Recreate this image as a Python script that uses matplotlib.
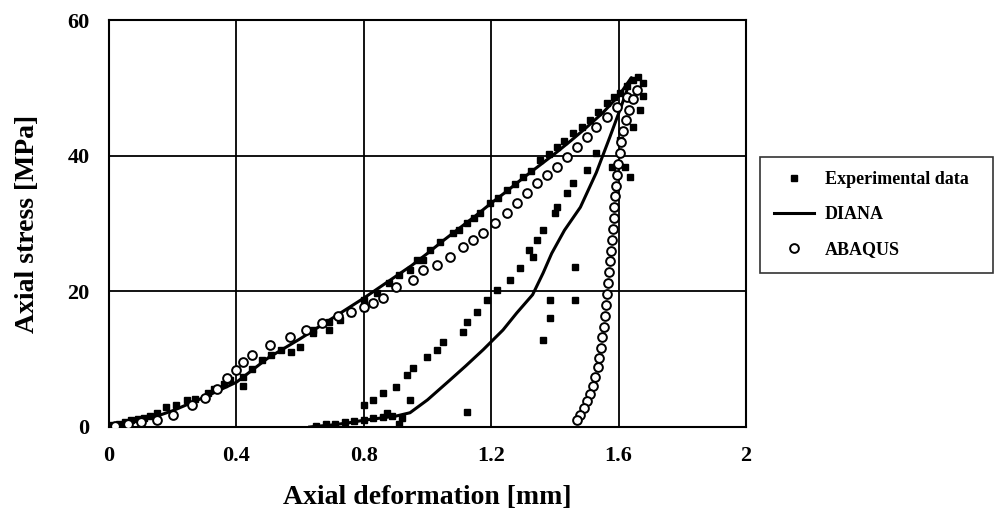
import matplotlib
matplotlib.use("Agg")
import matplotlib.pyplot as plt

# ---------------- data ----------------
exp_x = [0.01, 0.03, 0.05, 0.07, 0.09, 0.11, 0.13, 0.15, 0.18, 0.21, 0.245, 0.27, 0.31, 0.33, 0.36, 0.38,
         0.42, 0.42, 0.45, 0.48, 0.51, 0.54, 0.57, 0.6, 0.64, 0.64, 0.69, 0.69, 0.725, 0.76, 0.80, 0.80,
         0.84, 0.88, 0.91, 0.945, 0.967, 0.986, 1.008, 1.04, 1.08, 1.10, 1.124, 1.145, 1.165, 1.196,
         1.22, 1.25, 1.275, 1.30, 1.325, 1.353, 1.38, 1.407, 1.43, 1.457, 1.485, 1.51, 1.535, 1.563,
         1.585, 1.604, 1.625, 1.645, 1.66, 1.677, 1.677, 1.667, 1.645,
         1.604, 1.58, 1.62, 1.53, 1.50, 1.457, 1.437, 1.407, 1.40, 1.363, 1.343, 1.32, 1.33, 1.29,
         1.26, 1.218, 1.187, 1.155, 1.124, 1.11, 1.05, 1.03, 0.998, 0.955, 0.935, 0.90, 0.86, 0.83,
         0.80, 0.873, 0.945, 0.92, 0.89, 0.86, 0.83, 0.80, 0.77, 0.74, 0.71, 0.68, 0.65, 0.91,
         1.124, 1.385, 1.463, 1.385, 1.363, 1.463, 1.636]
exp_y = [0.3, 0.5, 0.8, 1.0, 1.2, 1.4, 1.6, 2.0, 3.0, 3.2, 4.0, 4.2, 5.0, 5.6, 6.4, 7.0,
         7.4, 6.0, 8.6, 9.9, 10.6, 11.4, 11.0, 11.8, 14.3, 13.9, 14.3, 15.5, 15.8, 16.8, 17.5, 18.7,
         19.8, 21.2, 22.4, 23.2, 24.6, 24.6, 26.1, 27.3, 28.6, 29.0, 30.1, 30.8, 31.6, 33.0,
         33.8, 35.0, 35.8, 36.9, 37.8, 39.4, 40.2, 41.3, 42.2, 43.4, 44.2, 45.3, 46.5, 47.8,
         48.6, 49.3, 50.2, 51.2, 51.6, 50.7, 48.8, 46.8, 44.2,
         42.3, 38.3, 38.3, 40.4, 37.9, 36.0, 34.5, 32.4, 31.5, 29.0, 27.6, 26.1, 25.0, 23.4,
         21.7, 20.2, 18.7, 17.0, 15.5, 14.0, 12.5, 11.4, 10.3, 8.7, 7.7, 5.9, 5.0, 4.0,
         3.2, 2.1, 4.0, 1.4, 1.6, 1.5, 1.3, 1.1, 0.9, 0.7, 0.5, 0.4, 0.2, 0.5,
         2.2, 18.7, 18.7, 16.0, 12.8, 23.6, 36.9]

diana_x = [0.0, 0.05, 0.1, 0.15, 0.2, 0.25, 0.3, 0.35, 0.4, 0.45, 0.5, 0.55, 0.6, 0.65, 0.7, 0.75,
           0.8, 0.85, 0.9, 0.95, 1.0, 1.05, 1.1, 1.15, 1.2, 1.25, 1.3, 1.35, 1.4, 1.45, 1.5, 1.55,
           1.6, 1.64,
           1.61, 1.573, 1.53, 1.48, 1.43, 1.39, 1.363, 1.33, 1.28, 1.237, 1.175, 1.12, 1.07, 1.0,
           0.945, 0.9, 0.85, 0.8, 0.75, 0.7, 0.65, 0.63]
diana_y = [0.0, 0.5, 1.0, 1.6, 2.4, 3.4, 4.4, 5.5, 6.6, 8.4, 10.2, 11.6, 13.0, 14.5, 16.0, 17.5,
           19.0, 20.6, 22.2, 23.8, 25.6, 27.5, 29.3, 31.1, 33.0, 34.8, 36.7, 38.5, 40.3, 42.2, 44.2, 46.3,
           48.8, 51.5,
           47.5, 42.8, 37.5, 32.4, 29.0, 25.6, 22.7, 19.5, 16.8, 14.3, 11.4, 9.0, 6.9, 4.0,
           2.1, 1.6, 1.3, 1.0, 0.6, 0.3, 0.1, 0.0]

abaqus_x = [0.02, 0.06, 0.10, 0.15, 0.20, 0.26, 0.30, 0.34, 0.37, 0.40, 0.42, 0.45, 0.505, 0.568,
            0.62, 0.67, 0.72, 0.76, 0.80, 0.83, 0.86, 0.90, 0.955, 0.986, 1.03, 1.07, 1.11, 1.143,
            1.175, 1.212, 1.25, 1.28, 1.312, 1.343, 1.375, 1.407, 1.437, 1.47, 1.50, 1.53, 1.563,
            1.595, 1.626, 1.658,
            1.645, 1.632, 1.622, 1.614, 1.608, 1.603, 1.599, 1.596, 1.593, 1.590, 1.587, 1.584,
            1.581, 1.578, 1.575, 1.572, 1.569, 1.566, 1.563, 1.560, 1.557, 1.553, 1.549, 1.545,
            1.540, 1.534, 1.527, 1.519, 1.510, 1.500, 1.490, 1.479, 1.468]
abaqus_y = [0.2, 0.5, 0.8, 1.0, 1.8, 3.2, 4.3, 5.6, 7.2, 8.4, 9.6, 10.6, 12.1, 13.3,
            14.3, 15.3, 16.3, 17.0, 17.7, 18.3, 19.0, 20.6, 21.7, 23.2, 23.9, 25.1, 26.5, 27.6,
            28.6, 30.1, 31.6, 33.0, 34.5, 36.0, 37.2, 38.3, 39.8, 41.3, 42.8, 44.2, 45.7,
            47.2, 48.7, 49.7,
            48.3, 46.8, 45.2, 43.6, 42.0, 40.4, 38.8, 37.2, 35.6, 34.0, 32.4, 30.8,
            29.2, 27.6, 26.0, 24.4, 22.8, 21.2, 19.6, 18.0, 16.4, 14.8, 13.2, 11.7,
            10.2, 8.8, 7.4, 6.1, 4.9, 3.8, 2.8, 1.8, 1.0]

xticks = [0, 0.4, 0.8, 1.2, 1.6, 2]
xticklabels = ["0", "0.4", "0.8", "1.2", "1.6", "2"]
yticks = [0, 20, 40, 60]
yticklabels = ["0", "20", "40", "60"]

# ---------------- plot ----------------
plt.rcParams['font.family'] = ['Liberation Serif', 'DejaVu Serif']
plt.rcParams['font.weight'] = 'bold'

fig = plt.figure(figsize=(9.95, 5.16), dpi=100)
ax = fig.add_axes([109/995, 1-427/516, (746-109)/995, (427-20)/516])

ax.plot(exp_x, exp_y, linestyle='none', marker='s', markersize=5, color='black',
        label='Experimental data', zorder=3)
ax.plot(diana_x, diana_y, color='black', linewidth=2.2, label='DIANA', zorder=4)
ax.plot(abaqus_x, abaqus_y, linestyle='none', marker='o', markersize=6.3, markerfacecolor='white',
        markeredgecolor='black', markeredgewidth=1.4, label='ABAQUS', zorder=5)

ax.set_xlim(0, 2)
ax.set_ylim(0, 60)
ax.set_xticks(xticks)
ax.set_xticklabels(xticklabels)
ax.set_yticks(yticks)
ax.set_yticklabels(yticklabels)
ax.tick_params(length=0, labelsize=16, pad=14)
for lab in ax.get_xticklabels() + ax.get_yticklabels():
    lab.set_fontweight('bold')
ax.grid(True, color='black', linewidth=1.3)
for s in ax.spines.values():
    s.set_linewidth(1.5)
    s.set_color('black')

ax.set_xlabel('Axial deformation [mm]', fontsize=20, fontweight='bold', labelpad=13)
ax.set_ylabel('Axial stress [MPa]', fontsize=20, fontweight='bold', labelpad=20)

leg = fig.legend(loc='center left', bbox_to_anchor=(760/995, 1-275/516, (993-760)/995, (275-154)/516),
                 mode='expand', frameon=True, fancybox=False, edgecolor='black',
                 prop={'family': 'Liberation Serif', 'weight': 'bold', 'size': 13},
                 labelspacing=1.0, handlelength=2.2, borderaxespad=0.0, borderpad=0.8,
                 handletextpad=0.6)
leg.get_frame().set_linewidth(1.2)

fig.savefig('out.png', dpi=100)
